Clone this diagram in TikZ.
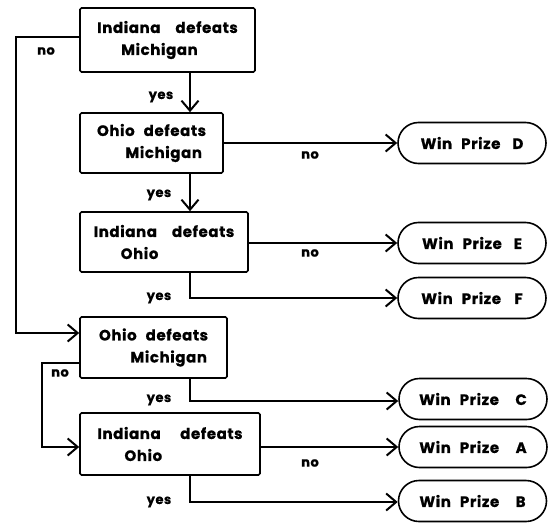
\documentclass[tikz,border=0pt]{standalone}
\usepackage{fontspec}
\setmainfont{Poppins}[LetterSpace=4,BoldFeatures={FakeBold=0.8}]
\usetikzlibrary{arrows.meta,shapes.misc}
\begin{document}
\begin{tikzpicture}[x=1pt,y=-1pt,
  font=\bfseries\fontsize{15}{22}\selectfont,
  decision/.style={draw,line width=1.6pt,rectangle,rounded corners=1.5pt,inner sep=0pt,align=left},
  prize/.style={draw,line width=1.6pt,rounded rectangle,minimum width=148pt,minimum height=41pt,inner sep=0pt},
  conn/.style={line width=2.2pt,-{Straight Barb[length=10pt,width=17pt,line width=2pt]}},
  lbl/.style={font=\bfseries\fontsize{13}{14}\selectfont,inner sep=0pt}]
\useasboundingbox (0,0) rectangle (554,522);
% decision boxes
\node[decision,minimum width=175pt,minimum height=64pt] (b1) at (167.5,40) {Indiana\hspace{1em}defeats\\\hspace{1.6em}Michigan};
\node[decision,minimum width=143pt,minimum height=60pt] (b2) at (151.5,143) {Ohio\hspace{0.6em}defeats\\\hspace{1.9em}Michigan};
\node[decision,minimum width=168pt,minimum height=60pt] (b3) at (164,242) {Indiana\hspace{1em}defeats\\\hspace{1.8em}Ohio};
\node[decision,minimum width=147pt,minimum height=61pt] (b4) at (153.5,347.5) {Ohio\hspace{0.6em}defeats\\\hspace{2.1em}Michigan};
\node[decision,minimum width=180pt,minimum height=62pt] (b5) at (170,444) {Indiana\hspace{1.3em}defeats\\\hspace{1.8em}Ohio};
% prizes
\node[prize] (pD) at (472,143) {Win\hspace{0.6em}Prize\hspace{0.8em}D};
\node[prize] (pE) at (472,243) {Win\hspace{0.6em}Prize\hspace{0.8em}E};
\node[prize] (pF) at (472,298) {Win\hspace{0.6em}Prize\hspace{0.9em}F};
\node[prize] (pC) at (473,399) {Win\hspace{0.6em}Prize\hspace{1.1em}C};
\node[prize] (pA) at (473,447) {Win\hspace{0.6em}Prize\hspace{1.1em}A};
\node[prize] (pB) at (472.5,501) {Win\hspace{0.6em}Prize\hspace{1.1em}B};
% connectors
\draw[conn] ([yshift=3pt]b1.west) -- ++(-63,0) coordinate (c1) |- ([yshift=14.5pt]b4.west);
\draw[conn] (b1.south -| 190,0) -- (b2.north -| 190,0);
\draw[conn] (b2.east |- pD.west) -- (pD.west);
\draw[conn] (b2.south -| 190,0) -- (b3.north -| 190,0);
\draw[conn] (b3.east |- pE.west) -- (pE.west);
\draw[conn] (b3.south -| 190,0) |- (pF.west);
\draw[conn] (b4.south -| 190,0) |- ([yshift=-2pt]pC.west);
\draw[conn] ([yshift=-15.5pt]b4.west) -- ++(-37,0) coordinate (c2) |- ([yshift=-3pt]b5.west);
\draw[conn] (b5.east |- pA.west) -- (pA.west);
\draw[conn] (b5.south -| 190,0) |- ([yshift=-1pt]pB.west);
% labels
\node[lbl] (n1) at (46,51) {no};
\node[lbl] (y1) at (161,97) {yes};
\node[lbl] (n2) at (310,155) {no};
\node[lbl] (y2) at (159,195) {yes};
\node[lbl] (n3) at (310,253) {no};
\node[lbl] (y3) at (159,298) {yes};
\node[lbl] (y4) at (159,400) {yes};
\node[lbl] (n4) at (60,373) {no};
\node[lbl] (n5) at (310,463) {no};
\node[lbl] (y5) at (159,502) {yes};
\end{tikzpicture}
\end{document}
